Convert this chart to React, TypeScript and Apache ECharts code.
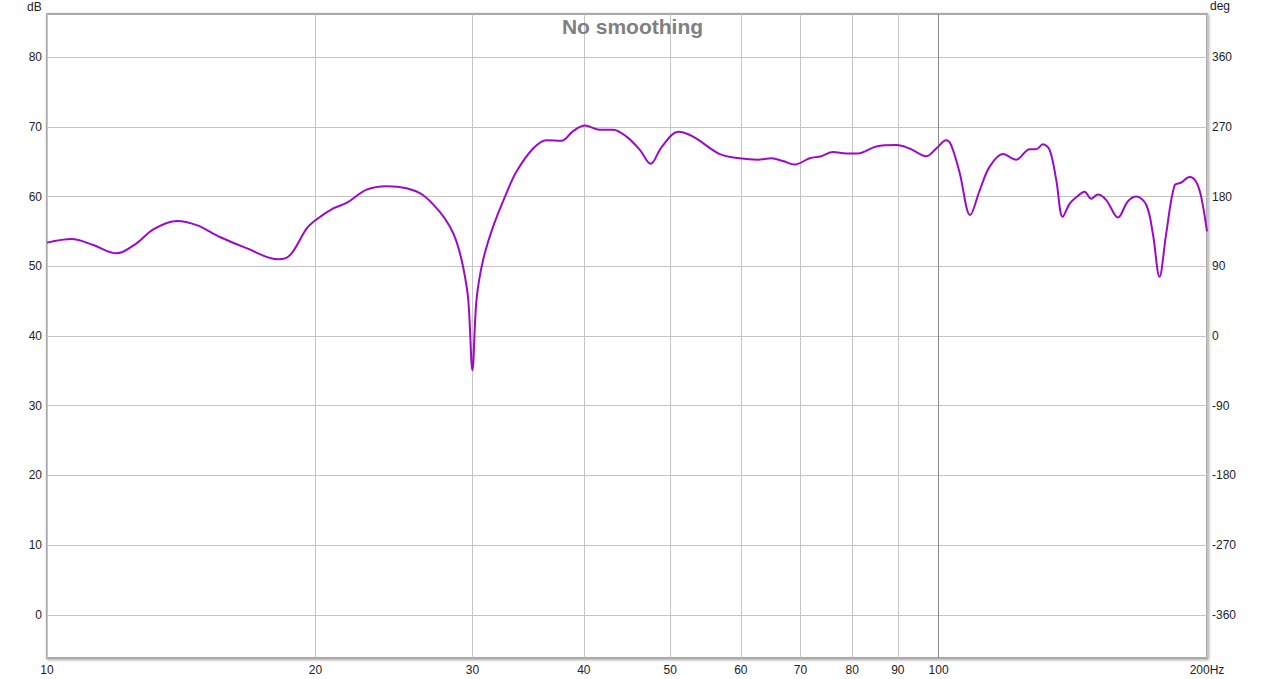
import React, { useEffect, useRef } from "react";
import * as echarts from "echarts";

const FREQ_HZ = [
  10, 10.66, 11.27, 11.97, 12.6, 13.16, 13.98, 14.72, 15.63, 16.74,
  18.17, 18.73, 19.55, 20.0, 20.94, 21.68, 22.83, 24.04, 25.31, 26.42,
  27.58, 28.3, 28.8, 29.29, 29.68, 30.0, 30.32, 30.84, 31.65, 32.76,
  33.62, 35.09, 36.33, 37.76, 38.91, 40.1, 41.69, 43.15, 44.67, 46.23,
  47.53, 48.9, 51.04, 53.05, 56.83, 59.83, 62.72, 64.93, 66.9, 68.95,
  71.68, 73.88, 76.12, 78.8, 81.2, 85.15, 89.7, 92.8, 96.9, 99.4,
  102.0, 103.3, 105.6, 108.5, 111.2, 114.1, 118.1, 122.2, 126.5, 128.7,
  130.9, 133.2, 135.5, 137.8, 140.3, 142.7, 145.8, 148.3, 150.9, 154.2,
  158.9, 163.0, 166.6, 171.0, 173.9, 176.9, 180.0, 183.9, 187.1, 191.2,
  194.5, 197.0, 200,
];

const SPL_DB = [
  53.4, 53.9, 53.05, 51.86, 53.3, 55.3, 56.5, 55.9, 54.2, 52.6,
  51.0, 51.6, 55.4, 56.6, 58.3, 59.1, 61.0, 61.5, 61.2, 60.2,
  57.8, 55.7, 53.5, 49.9, 45.2, 35.1, 45.2, 50.9, 55.7, 60.5,
  63.6, 66.9, 68.1, 68.0, 69.4, 70.2, 69.6, 69.6, 68.6, 66.7,
  64.7, 67.1, 69.3, 68.6, 66.1, 65.5, 65.3, 65.5, 65.1, 64.6,
  65.5, 65.8, 66.4, 66.2, 66.2, 67.2, 67.4, 66.9, 65.8, 66.9,
  68.1, 67.4, 63.4, 57.35, 60.9, 64.3, 66.1, 65.3, 66.8, 66.8,
  67.5, 66.7, 62.4, 57.1, 59.0, 59.9, 60.7, 59.7, 60.3, 59.5,
  57.0, 59.3, 60.0, 58.8, 54.7, 48.5, 54.7, 61.6, 62.0, 62.8,
  62.1, 60.0, 55.0,
];

const X_TICKS_HZ = [10, 20, 30, 40, 50, 60, 70, 80, 90, 100, 200];
const DB_MIN = -6.2;
const DB_MAX = 86.2;
const DEG_PER_DB = 9;
const DB_AT_ZERO_DEG = 40;

const FONT = "'Liberation Sans', Arial, sans-serif";

export default function App() {
  const ref = useRef<HTMLDivElement>(null);

  useEffect(() => {
    const chart = echarts.init(ref.current!, null, { renderer: "svg" });
    const gridLineColors = X_TICKS_HZ.map((v) => (v === 100 ? "#8a8a8a" : "#c4c4c4"));
    chart.setOption({
      animation: false,
      backgroundColor: "#ffffff",
      title: {
        text: "No smoothing",
        left: "center",
        top: 16,
        padding: 0,
        textStyle: { fontFamily: FONT, fontSize: 21, fontWeight: "bold", color: "#808080" },
      },
      grid: {
        left: 47,
        right: 58,
        top: 14,
        bottom: 21,
        show: true,
        backgroundColor: "#ffffff",
        borderColor: "#aaaaaa",
        borderWidth: 2,
        shadowColor: "rgba(0,0,0,0.35)",
        shadowBlur: 3,
        shadowOffsetX: 1,
        shadowOffsetY: 1,
      },
      graphic: [
        { type: "text", left: 27, top: 1, style: { text: "dB", font: `12px ${FONT}`, fill: "#222" } },
        { type: "text", left: 1210, top: 0, style: { text: "deg", font: `12px ${FONT}`, fill: "#222" } },
      ],
      xAxis: {
        type: "log",
        logBase: 10,
        min: 10,
        max: 200,
        axisLine: { show: false },
        axisTick: { show: false, customValues: X_TICKS_HZ },
        axisLabel: {
          customValues: X_TICKS_HZ,
          margin: 6,
          fontFamily: FONT,
          fontSize: 12,
          color: "#222",
          formatter: (v: number) => (Math.round(v) === 200 ? "200Hz" : String(Math.round(v))),
        },
        splitLine: { show: true, lineStyle: { color: gridLineColors, width: 1 } },
      },
      yAxis: [
        {
          type: "value",
          min: DB_MIN,
          max: DB_MAX,
          splitNumber: 9,
          minInterval: 10,
          maxInterval: 10,
          axisLine: { show: false },
          axisTick: { show: false },
          axisLabel: {
            showMinLabel: false,
            showMaxLabel: false,
            margin: 5,
            fontFamily: FONT,
            fontSize: 12,
            color: "#222",
          },
          splitLine: { show: true, showMinLine: false, showMaxLine: false, lineStyle: { color: "#c4c4c4", width: 1 } },
        },
        {
          type: "value",
          position: "right",
          min: DB_MIN,
          max: DB_MAX,
          splitNumber: 9,
          minInterval: 10,
          maxInterval: 10,
          axisLine: { show: false },
          axisTick: { show: false },
          axisLabel: {
            showMinLabel: false,
            showMaxLabel: false,
            margin: 5,
            fontFamily: FONT,
            fontSize: 12,
            color: "#222",
            formatter: (v: number) => String(Math.round((v - DB_AT_ZERO_DEG) * DEG_PER_DB)),
          },
          splitLine: { show: false },
        },
      ],
      series: [
        {
          type: "line",
          name: "SPL",
          yAxisIndex: 0,
          showSymbol: false,
          smooth: 0.35,
          lineStyle: { color: "#9a0cc4", width: 2 },
          data: FREQ_HZ.map((f, i) => [f, SPL_DB[i]]),
        },
      ],
    });
    return () => chart.dispose();
  }, []);

  return (
    <div
      ref={ref}
      style={{ position: "fixed", left: 0, top: 0, width: 1265, height: 679 }}
    />
  );
}
